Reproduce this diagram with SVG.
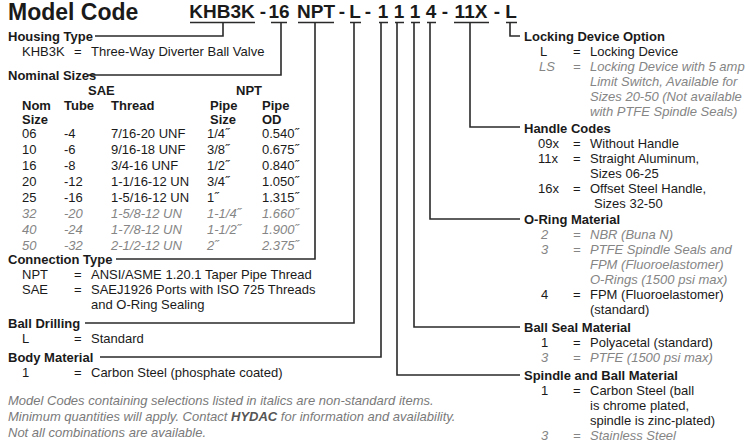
<svg xmlns="http://www.w3.org/2000/svg" width="750" height="444" viewBox="0 0 750 444">
<style>
text{font-family:"Liberation Sans",Arial,sans-serif;font-size:13px;fill:#1a1a1a}
.h{font-weight:bold;font-size:13px}
.i{font-style:italic;fill:#858585}
.c{font-weight:bold;font-size:19px;text-anchor:middle}
.f{font-style:italic;fill:#7a7a7a;font-size:13px}
.ln{fill:none;stroke:#2a2a2a;stroke-width:1.6}
</style>
<rect width="750" height="444" fill="#fff"/>
<g id="title"><text x="8" y="20" style="font-weight:bold;font-size:23px">Model Code</text>
<text x="222" y="18" class="c">KHB3K</text><text x="263" y="18" class="c">-</text><text x="279" y="18" class="c">16</text><text x="316" y="18" class="c">NPT</text><text x="342" y="18" class="c">-</text><text x="355" y="18" class="c">L</text><text x="368" y="18" class="c">-</text><text x="383" y="18" class="c">1</text><text x="399" y="18" class="c">1</text><text x="415" y="18" class="c">1</text><text x="431" y="18" class="c">4</text><text x="445" y="18" class="c">-</text><text x="471" y="18" class="c">11X</text><text x="497" y="18" class="c">-</text><text x="511" y="18" class="c">L</text></g>
<g id="connectors" class="ln">
<path d="M190 22.5H255M271 22.5H287M298 22.5H334M350 22.5H361M379 22.5H388M395 22.5H404M411 22.5H420M427 22.5H436M454 22.5H489M506 22.5H517"/>
<path d="M223 22.5V36H95"/>
<path d="M281 22.5V75H88"/>
<path d="M315 22.5V259H116"/>
<path d="M354 22.5V323H85"/>
<path d="M381 22.5V357H100"/>
<path d="M397 22.5V375H520"/>
<path d="M414 22.5V327H520"/>
<path d="M430 22.5V219H520"/>
<path d="M470 22.5V127H520"/>
<path d="M510 22.5V36H520"/>
</g>
<g id="housing"><text x="8" y="41" class="h">Housing Type</text>
<text x="22" y="56">KHB3K</text><text x="74" y="56">=</text><text x="91" y="56">Three-Way Diverter Ball Valve</text></g>
<g id="sizes"><text x="8" y="80" class="h">Nominal Sizes</text>
<text x="88" y="95" class="h">SAE</text><text x="236" y="95" class="h">NPT</text>
<text x="22" y="110" class="h">Nom</text><text x="64" y="110" class="h">Tube</text><text x="111" y="110" class="h">Thread</text><text x="210" y="110" class="h">Pipe</text><text x="262" y="110" class="h">Pipe</text>
<text x="22" y="124" class="h">Size</text><text x="210" y="124" class="h">Size</text><text x="262" y="124" class="h">OD</text>
<text x="22" y="138">06</text><text x="64" y="138">-4</text><text x="111" y="138">7/16-20 UNF</text><text x="207" y="138">1/4˝</text><text x="262" y="138">0.540˝</text>
<text x="22" y="154">10</text><text x="64" y="154">-6</text><text x="111" y="154">9/16-18 UNF</text><text x="207" y="154">3/8˝</text><text x="262" y="154">0.675˝</text>
<text x="22" y="170">16</text><text x="64" y="170">-8</text><text x="111" y="170">3/4-16 UNF</text><text x="207" y="170">1/2˝</text><text x="262" y="170">0.840˝</text>
<text x="22" y="186">20</text><text x="64" y="186">-12</text><text x="111" y="186">1-1/16-12 UN</text><text x="207" y="186">3/4˝</text><text x="262" y="186">1.050˝</text>
<text x="22" y="202">25</text><text x="64" y="202">-16</text><text x="111" y="202">1-5/16-12 UN</text><text x="207" y="202">1˝</text><text x="262" y="202">1.315˝</text>
<text x="22" y="218" class="i">32</text><text x="64" y="218" class="i">-20</text><text x="111" y="218" class="i">1-5/8-12 UN</text><text x="207" y="218" class="i">1-1/4˝</text><text x="262" y="218" class="i">1.660˝</text>
<text x="22" y="234" class="i">40</text><text x="64" y="234" class="i">-24</text><text x="111" y="234" class="i">1-7/8-12 UN</text><text x="207" y="234" class="i">1-1/2˝</text><text x="262" y="234" class="i">1.900˝</text>
<text x="22" y="250" class="i">50</text><text x="64" y="250" class="i">-32</text><text x="111" y="250" class="i">2-1/2-12 UN</text><text x="207" y="250" class="i">2˝</text><text x="262" y="250" class="i">2.375˝</text></g>
<g id="connection"><text x="8" y="264" class="h">Connection Type</text>
<text x="22" y="279">NPT</text><text x="74" y="279">=</text><text x="91" y="279">ANSI/ASME 1.20.1 Taper Pipe Thread</text>
<text x="22" y="294">SAE</text><text x="74" y="294">=</text><text x="91" y="294">SAEJ1926 Ports with ISO 725 Threads</text>
<text x="91" y="309">and O-Ring Sealing</text></g>
<g id="drilling"><text x="8" y="328" class="h">Ball Drilling</text>
<text x="22" y="343">L</text><text x="74" y="343">=</text><text x="91" y="343">Standard</text></g>
<g id="body"><text x="8" y="362" class="h">Body Material</text>
<text x="22" y="377">1</text><text x="74" y="377">=</text><text x="91" y="377">Carbon Steel (phosphate coated)</text></g>
<g id="note"><text x="8" y="405" class="f">Model Codes containing selections listed in italics are non-standard items.</text>
<text x="8" y="421" class="f">Minimum quantities will apply. Contact <tspan style="font-weight:bold;fill:#555">HYDAC</tspan> for information and availability.</text>
<text x="8" y="437" class="f">Not all combinations are available.</text></g>
<g id="locking"><text x="524" y="41" class="h">Locking Device Option</text>
<text x="540" y="56">L</text><text x="573" y="56">=</text><text x="590" y="56">Locking Device</text>
<text x="539" y="71" class="i">LS</text><text x="573" y="71" class="i">=</text><text x="590" y="71" class="i">Locking Device with 5 amp</text>
<text x="590" y="86" class="i">Limit Switch, Available for</text>
<text x="590" y="101" class="i">Sizes 20-50 (Not available</text>
<text x="590" y="116" class="i">with PTFE Spindle Seals)</text></g>
<g id="handle"><text x="524" y="133" class="h">Handle Codes</text>
<text x="538" y="148">09x</text><text x="573" y="148">=</text><text x="590" y="148">Without Handle</text>
<text x="538" y="163">11x</text><text x="573" y="163">=</text><text x="590" y="163">Straight Aluminum,</text>
<text x="590" y="178">Sizes 06-25</text>
<text x="538" y="193">16x</text><text x="573" y="193">=</text><text x="590" y="193">Offset Steel Handle,</text>
<text x="594" y="208">Sizes 32-50</text></g>
<g id="oring"><text x="524" y="224" class="h">O-Ring Material</text>
<text x="541" y="239" class="i">2</text><text x="573" y="239" class="i">=</text><text x="590" y="239" class="i">NBR (Buna N)</text>
<text x="541" y="254" class="i">3</text><text x="573" y="254" class="i">=</text><text x="590" y="254" class="i">PTFE Spindle Seals and</text>
<text x="590" y="269" class="i">FPM (Fluoroelastomer)</text>
<text x="590" y="284" class="i">O-Rings (1500 psi max)</text>
<text x="541" y="299">4</text><text x="573" y="299">=</text><text x="590" y="299">FPM (Fluoroelastomer)</text>
<text x="590" y="314">(standard)</text></g>
<g id="ballseal"><text x="524" y="332" class="h">Ball Seal Material</text>
<text x="541" y="347">1</text><text x="573" y="347">=</text><text x="590" y="347">Polyacetal (standard)</text>
<text x="541" y="362" class="i">3</text><text x="573" y="362" class="i">=</text><text x="590" y="362" class="i">PTFE (1500 psi max)</text></g>
<g id="spindle"><text x="524" y="380" class="h">Spindle and Ball Material</text>
<text x="541" y="395">1</text><text x="573" y="395">=</text><text x="590" y="395">Carbon Steel (ball</text>
<text x="590" y="410">is chrome plated,</text>
<text x="590" y="425">spindle is zinc-plated)</text>
<text x="541" y="440" class="i">3</text><text x="573" y="440" class="i">=</text><text x="590" y="440" class="i">Stainless Steel</text></g>
</svg>
